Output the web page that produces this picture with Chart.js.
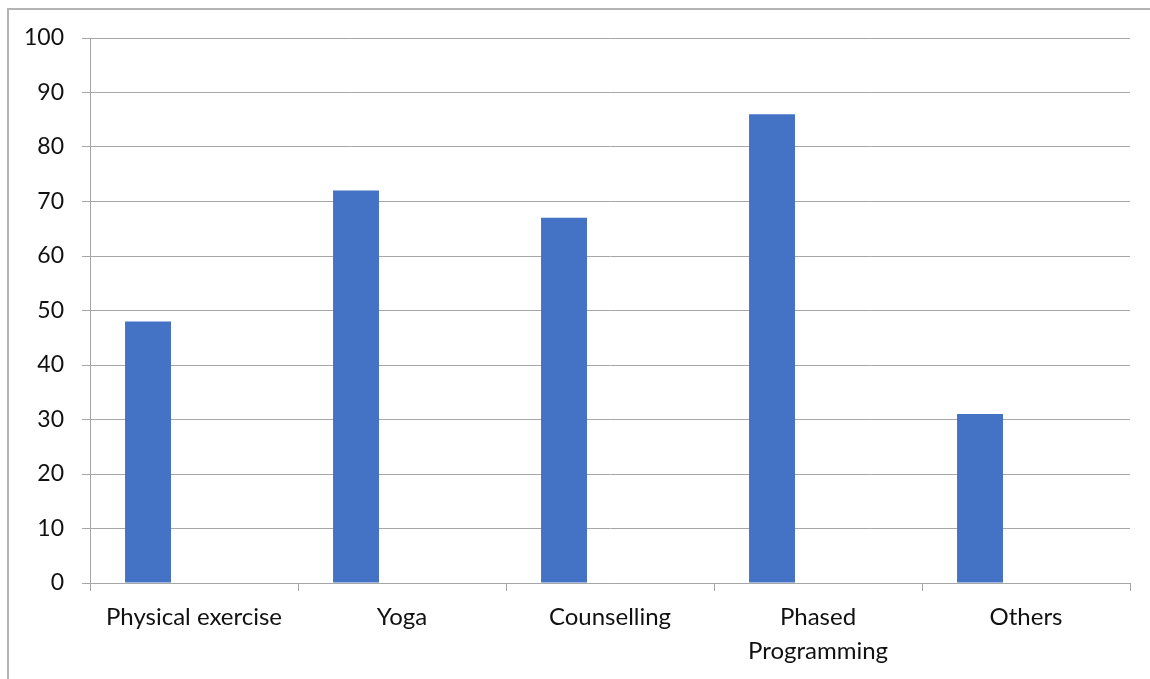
<!DOCTYPE html>
<html>
<head>
<meta charset="utf-8">
<script src="https://cdn.jsdelivr.net/npm/chart.js@4.4.1/dist/chart.umd.min.js"></script>
<style>
  html, body { margin: 0; padding: 0; background: #fff; }
  #wrap { position: relative; width: 1150px; height: 679px; overflow: hidden; }
  #frame {
    position: absolute; left: 7px; top: 8px; width: 1200px; height: 700px;
    border-left: 2px solid #b4b4b4; border-top: 2px solid #b4b4b4;
  }
  canvas { position: absolute; left: 0; top: 0; }
</style>
</head>
<body>
<div id="wrap">
  <div id="frame"></div>
  <canvas id="myChart" width="1150" height="679"></canvas>
</div>
<script>
const categories = ["Physical exercise", "Yoga", "Counselling", ["Phased", "Programming"], "Others"];
const seriesValues = [48, 72, 67, 86, 31];
const emptySeries = [null, null, null, null, null];
const yTicks = [0, 10, 20, 30, 40, 50, 60, 70, 80, 90, 100];

document.addEventListener("DOMContentLoaded", function () {
    let ctx = document.getElementById("myChart").getContext("2d");
    let gridGrey = "#a6a6a6";

    new Chart(ctx, {
        type: "bar",
        data: {
            labels: categories,
            datasets: [
                { data: seriesValues, backgroundColor: "#4472c4" },
                // two empty series keep the bars in the left third of each slot
                { data: emptySeries, backgroundColor: "#ed7d31" },
                { data: emptySeries, backgroundColor: "#a5a5a5" }
            ]
        },
        options: {
            responsive: false,
            animation: false,
            categoryPercentage: 0.663,
            barPercentage: 1,
            layout: { padding: { left: 0, right: 20, top: 38, bottom: 0 } },
            plugins: {
                legend: { display: false },
                tooltip: { enabled: false }
            },
            scales: {
                x: {
                    grid: {
                        offset: true,
                        drawOnChartArea: false,
                        drawTicks: true,
                        tickLength: 8,
                        color: gridGrey,
                        lineWidth: 1
                    },
                    border: { display: true, color: gridGrey, width: 1 },
                    ticks: {
                        color: "#111",
                        font: { family: "Lato", size: 24, lineHeight: 1.42 },
                        padding: 9,
                        maxRotation: 0,
                        minRotation: 0,
                        autoSkip: false
                    },
                    afterFit: function (scale) { scale.height = 96; }
                },
                y: {
                    min: 0,
                    max: 100,
                    afterBuildTicks: function (scale) {
                        scale.ticks = yTicks.map(v => ({ value: v }));
                    },
                    grid: { color: gridGrey, lineWidth: 1, tickLength: 8 },
                    border: { display: true, color: gridGrey, width: 1 },
                    ticks: { color: "#111", font: { family: "Lato", size: 23 }, padding: 18 },
                    afterFit: function (scale) { scale.width = 90; }
                }
            }
        }
    });
});
</script>
</body>
</html>
